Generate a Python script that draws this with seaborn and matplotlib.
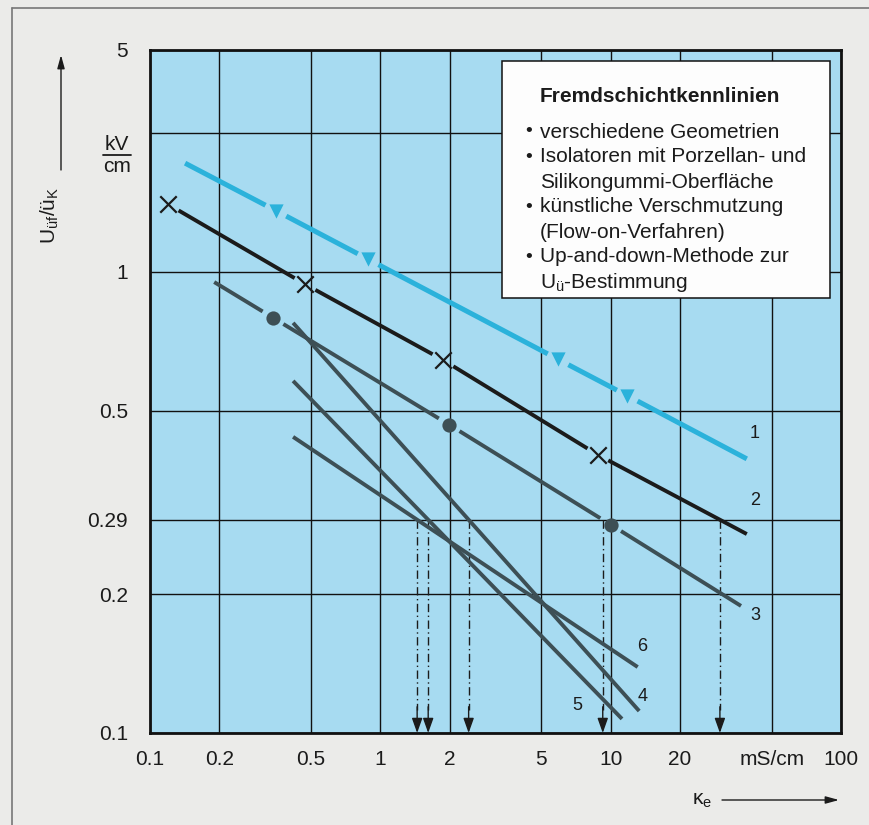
"""Fremdschichtkennlinien: withstand field strength vs. layer conductivity (log-log)."""

import matplotlib

matplotlib.use("Agg")
import matplotlib.pyplot as plt
import numpy as np
import pandas as pd
import seaborn as sns
from matplotlib.lines import Line2D
from matplotlib.patches import Rectangle

# --- data ---------------------------------------------------------------
KAPPA_TICKS = [0.1, 0.2, 0.5, 1, 2, 5, 10, 20, 50, 100]
KAPPA_LABELS = ["0.1", "0.2", "0.5", "1", "2", "5", "10", "20", "mS/cm", "100"]
U_TICKS = [0.1, 0.2, 0.29, 0.5, 1, 2, 5]
U_LABELS = ["0.1", "0.2", "0.29", "0.5", "1", "", "5"]
U_REF = 0.29

curve1_x = [0.142, 0.352, 0.885, 5.91, 11.8, 39.0]
curve1_y = [1.72, 1.357, 1.065, 0.646, 0.539, 0.393]
curve1_marked = [False, True, True, True, True, False]

curve2_x = [0.12, 0.471, 1.87, 8.8, 39.0]
curve2_y = [1.40, 0.94, 0.644, 0.401, 0.270]
curve2_marked = [True, True, True, True, False]

curve3_x = [0.19, 0.342, 1.99, 10.0, 36.8]
curve3_y = [0.95, 0.795, 0.466, 0.283, 0.1886]
curve3_marked = [False, True, True, True, False]

curve4_x = [0.418, 13.3]
curve4_y = [0.775, 0.1116]
curve5_x = [0.418, 11.2]
curve5_y = [0.58, 0.1073]
curve6_x = [0.418, 13.1]
curve6_y = [0.4386, 0.139]

curve_labels = ["1", "2", "3", "4", "5", "6"]
label_x = [42.0, 42.4, 42.4, 13.8, 7.15, 13.7]
label_y = [0.445, 0.319, 0.1794, 0.120, 0.115, 0.1537]

LEGEND_TITLE = "Fremdschichtkennlinien"
LEGEND_BULLETS = ["•", "•", "", "•", "", "•", ""]
LEGEND_LINES = [
    "verschiedene Geometrien",
    "Isolatoren mit Porzellan- und",
    "Silikongummi-Oberfläche",
    "künstliche Verschmutzung",
    "(Flow-on-Verfahren)",
    "Up-and-down-Methode zur",
    "U$_{ü}$-Bestimmung",
]

# --- style ---------------------------------------------------------------
PAPER = "#ebebe9"
PANEL = "#a7dbf1"
CYAN = "#2bb2db"
SLATE = "#3d4f55"
INK = "#1b1b1b"
W, H = 869, 825
GAP_DEC = 0.045  # gap left in a line around each marker, in decades of x
TOP_SQUEEZE = 0.452  # the printed y axis is compressed above 2 kV/cm
LOG2 = np.log10(2.0)


def px(x, y):
    """Pixel position in the 869x825 picture -> figure fraction."""
    return x / W, 1 - y / H


def _fwd(y):
    ly = np.log10(np.clip(np.asarray(y, dtype=float), 1e-6, None))
    return np.where(ly <= LOG2, ly, LOG2 + TOP_SQUEEZE * (ly - LOG2))


def _inv(v):
    v = np.asarray(v, dtype=float)
    return 10 ** np.where(v <= LOG2, v, LOG2 + (v - LOG2) / TOP_SQUEEZE)


def broken_segments(xs, ys, marked, name):
    """Split a polyline into pieces that stop short of each marker."""
    lx, ly = np.log10(xs), np.log10(ys)
    rows = []
    for i in range(len(xs) - 1):
        span = lx[i + 1] - lx[i]
        t0 = GAP_DEC / span if marked[i] else 0.0
        t1 = 1 - GAP_DEC / span if marked[i + 1] else 1.0
        for t in (t0, t1):
            rows.append({"seg": f"{name}-{i}",
                         "x": 10 ** (lx[i] + t * span),
                         "y": 10 ** (ly[i] + t * (ly[i + 1] - ly[i]))})
    return pd.DataFrame(rows)


def crossing_x(xs, ys, level):
    lx, ly = np.log10(xs), np.log10(ys)
    return 10 ** np.interp(np.log10(level), ly[::-1], lx[::-1])


sns.set_style("ticks")
plt.rcParams["font.family"] = ["Liberation Sans", "DejaVu Sans"]
plt.rcParams["mathtext.default"] = "regular"

fig = plt.figure(figsize=(W / 100, H / 100), dpi=100, facecolor=PAPER)
x0, y0 = px(150, 733)
x1, y1 = px(841, 50)
ax = fig.add_axes([x0, y0, x1 - x0, y1 - y0])
ax.set_facecolor(PANEL)
ax.set_xscale("log")
ax.set_yscale("function", functions=(_fwd, _inv))

# --- curves ----------------------------------------------------------------
series = [
    (curve1_x, curve1_y, curve1_marked, CYAN, 3.6, "v"),
    (curve2_x, curve2_y, curve2_marked, INK, 2.8, "x"),
    (curve3_x, curve3_y, curve3_marked, SLATE, 2.8, "o"),
    (curve4_x, curve4_y, [False, False], SLATE, 2.8, None),
    (curve5_x, curve5_y, [False, False], SLATE, 2.8, None),
    (curve6_x, curve6_y, [False, False], SLATE, 2.8, None),
]
for k, (xs, ys, marked, color, lw, marker) in enumerate(series):
    segs = broken_segments(xs, ys, marked, f"c{k}")
    sns.lineplot(data=segs, x="x", y="y", units="seg", estimator=None, sort=False,
                 color=color, lw=lw, solid_capstyle="butt", ax=ax, zorder=3)
    if marker:
        mx = [x for x, m in zip(xs, marked) if m]
        my = [y for y, m in zip(ys, marked) if m]
        if marker == "x":
            sns.scatterplot(x=mx, y=my, marker="x", s=140, color=INK, linewidth=1.6,
                            ax=ax, zorder=4)
        else:
            sns.scatterplot(x=mx, y=my, marker=marker, s=105, color=color,
                            edgecolor=color, linewidth=0, ax=ax, zorder=4)

for lbl, lx_, ly_ in zip(curve_labels, label_x, label_y):
    ax.text(lx_, ly_, lbl, fontsize=13, color=INK, ha="center", va="center")

# dash-dot read-off arrows where curves 2..6 cross U_REF
for xs, ys, *_ in series[1:]:
    xc = crossing_x(xs, ys, U_REF)
    ax.plot([xc, xc], [U_REF, 0.112], color=INK, lw=1.0,
            ls=(0, (6, 2.5, 1, 2.5)), zorder=2)
    ax.annotate("", xy=(xc, 0.1), xytext=(xc, 0.114),
                arrowprops=dict(arrowstyle="-|>,head_length=0.9,head_width=0.32",
                                color=INK, lw=1.0, shrinkA=0, shrinkB=0),
                zorder=2)

# axes cosmetics (after seaborn, which sets its own labels)
ax.set_xlim(0.1, 100)
ax.set_ylim(0.1, 5)
ax.xaxis.set_major_locator(matplotlib.ticker.FixedLocator(KAPPA_TICKS))
ax.xaxis.set_minor_locator(matplotlib.ticker.NullLocator())
ax.yaxis.set_major_locator(matplotlib.ticker.FixedLocator(U_TICKS))
ax.yaxis.set_minor_locator(matplotlib.ticker.NullLocator())
ax.set_xticklabels(KAPPA_LABELS)
ax.set_yticklabels(U_LABELS)
ax.tick_params(axis="both", length=0, labelsize=15, labelcolor=INK)
ax.tick_params(axis="y", pad=16)
ax.tick_params(axis="x", pad=12)
ax.grid(True, color="#111111", lw=1.0)
ax.set_axisbelow(True)
for spine in ax.spines.values():
    spine.set_linewidth(2.0)
    spine.set_color("#111111")
ax.set_xlabel("")
ax.set_ylabel("")

# --- unit, axis labels and arrows ------------------------------------------
fig.text(*px(117, 144), "kV", fontsize=15, ha="center", va="center", color=INK)
fig.add_artist(Line2D([103 / W, 131 / W], [1 - 155 / H] * 2, color=INK, lw=1.3))
fig.text(*px(117, 167), "cm", fontsize=15, ha="center", va="center", color=INK)

fig.text(*px(50, 215), "U$_{üf}$/ü$_{K}$", fontsize=15, rotation=90,
         ha="center", va="center", color=INK)
ax.annotate("", xy=px(61, 55), xytext=px(61, 170), xycoords="figure fraction",
            arrowprops=dict(arrowstyle="-|>,head_length=0.8,head_width=0.22",
                            color=INK, lw=1.0, shrinkA=0, shrinkB=0),
            annotation_clip=False)

fig.text(*px(702, 801), "κ$_{e}$", fontsize=15, ha="center", va="center", color=INK)
ax.annotate("", xy=px(839, 800), xytext=px(722, 800), xycoords="figure fraction",
            arrowprops=dict(arrowstyle="-|>,head_length=0.8,head_width=0.22",
                            color=INK, lw=1.0, shrinkA=0, shrinkB=0),
            annotation_clip=False)

# --- explanation box ---------------------------------------------------------
bx0, by0 = px(502, 298)
bx1, by1 = px(830, 61)
fig.add_artist(Rectangle((bx0, by0), bx1 - bx0, by1 - by0, transform=fig.transFigure,
                         facecolor="#fdfdfd", edgecolor="#111111", lw=1.1, zorder=5))
fig.text(*px(540, 97), LEGEND_TITLE, fontsize=15, fontweight="bold",
         ha="left", va="center", color=INK, zorder=6)
for i, (bullet, line) in enumerate(zip(LEGEND_BULLETS, LEGEND_LINES)):
    yy = 132 + 25 * i
    if bullet:
        fig.text(*px(529, yy), bullet, fontsize=14, ha="center", va="center",
                 color=INK, zorder=6)
    fig.text(*px(540, yy), line, fontsize=15, ha="left", va="center",
             color=INK, zorder=6)

# page frame
fig.add_artist(Line2D([12 / W, 12 / W], [0, 1 - 8 / H], color="#777777", lw=1.2))
fig.add_artist(Line2D([12 / W, 1], [1 - 8 / H] * 2, color="#777777", lw=1.2))

fig.savefig("out.png", dpi=100, facecolor=PAPER)
plt.close(fig)
